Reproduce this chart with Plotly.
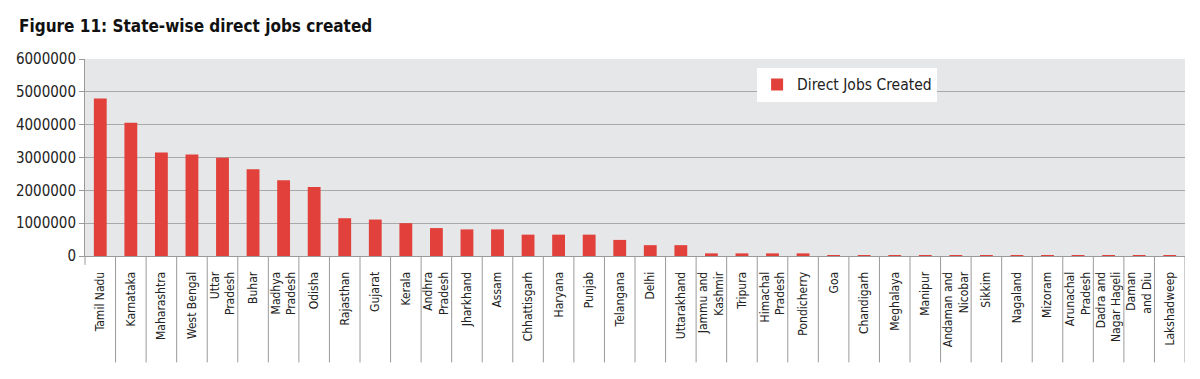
import plotly.graph_objects as go

states = ["Tamil Nadu", "Karnataka", "Maharashtra", "West Bengal", "Uttar<br>Pradesh", "Buhar",
          "Madhya<br>Pradesh", "Odisha", "Rajasthan", "Gujarat", "Kerala", "Andhra<br>Pradesh",
          "Jharkhand", "Assam", "Chhattisgarh", "Haryana", "Punjab", "Telangana", "Delhi",
          "Uttarakhand", "Jammu and<br>Kashmir", "Tripura", "Himachal<br>Pradesh", "Pondicherry",
          "Goa", "Chandigarh", "Meghalaya", "Manipur", "Andaman and<br>Nicobar", "Sikkim",
          "Nagaland", "Mizoram", "Arunachal<br>Pradesh", "Dadra and<br>Nagar Hageli",
          "Daman<br>and Diu", "Lakshadweep"]
jobs = [4800000, 4060000, 3150000, 3090000, 2990000, 2640000,
        2310000, 2100000, 1150000, 1110000, 1000000, 850000,
        810000, 810000, 650000, 650000, 650000, 490000, 330000,
        330000, 80000, 80000, 80000, 80000,
        30000, 30000, 30000, 30000, 30000, 30000,
        30000, 30000, 30000, 30000, 30000, 30000]
y_ticks = [0, 1000000, 2000000, 3000000, 4000000, 5000000, 6000000]

FONT = "DejaVu Sans Condensed, Liberation Sans, sans-serif"
RED = "#e2403a"
GRID = "#a9a9a9"

fig = go.Figure()
fig.add_trace(go.Bar(x=list(range(len(states))), y=jobs, name="Direct Jobs Created",
                     marker=dict(color=RED, line=dict(width=0)), showlegend=True))

shapes = []
for k in range(len(states)):
    shapes.append(dict(type="line", xref="x", yref="paper", x0=k + 0.5, x1=k + 0.5,
                       y0=0, y1=-0.54, line=dict(color="#9a9a9a", width=1)))
shapes.append(dict(type="line", xref="paper", yref="paper", x0=0, x1=0, y0=0, y1=-0.045,
                   line=dict(color="#9a9a9a", width=1)))
fig.update_layout(
    width=1200, height=379,
    margin=dict(l=77, r=23, t=51, b=131, autoexpand=False),
    paper_bgcolor="white", plot_bgcolor="#e6e7e9",
    font=dict(family=FONT, color="#222"),
    title=dict(text="<b>Figure 11: State-wise direct jobs created</b>", x=11 / 1200, xanchor="left",
               y=1 - 18 / 379, yanchor="middle", font=dict(size=17, family=FONT, color="#111")),
    bargap=0.58,
    showlegend=True,
    legend=dict(x=0.611, y=0.955, xanchor="left", yanchor="top", bgcolor="white",
                font=dict(size=15.5, family=FONT, color="#222"), borderwidth=0,
                itemwidth=30),
    shapes=shapes,
)
fig.update_xaxes(range=[-0.5, len(states) - 0.5], tickmode="array",
                 tickvals=list(range(len(states))), ticktext=states, tickangle=-90,
                 tickfont=dict(size=12, family=FONT, color="#222"),
                 showline=True, linecolor="#9a9a9a", linewidth=1,
                 ticks="outside", ticklen=10, tickcolor="rgba(0,0,0,0)", showgrid=False,
                 zeroline=False, automargin=False)
fig.update_yaxes(range=[0, 6000000], tickmode="array", tickvals=y_ticks,
                 ticktext=[str(v) for v in y_ticks],
                 tickfont=dict(size=15, family=FONT, color="#222"),
                 showline=True, linecolor="#9a9a9a", linewidth=1, ticks="outside", ticklen=5,
                 tickcolor="#9a9a9a", showgrid=True, gridcolor=GRID, gridwidth=1, zeroline=False,
                 automargin=False)

fig.write_html("out.html")
